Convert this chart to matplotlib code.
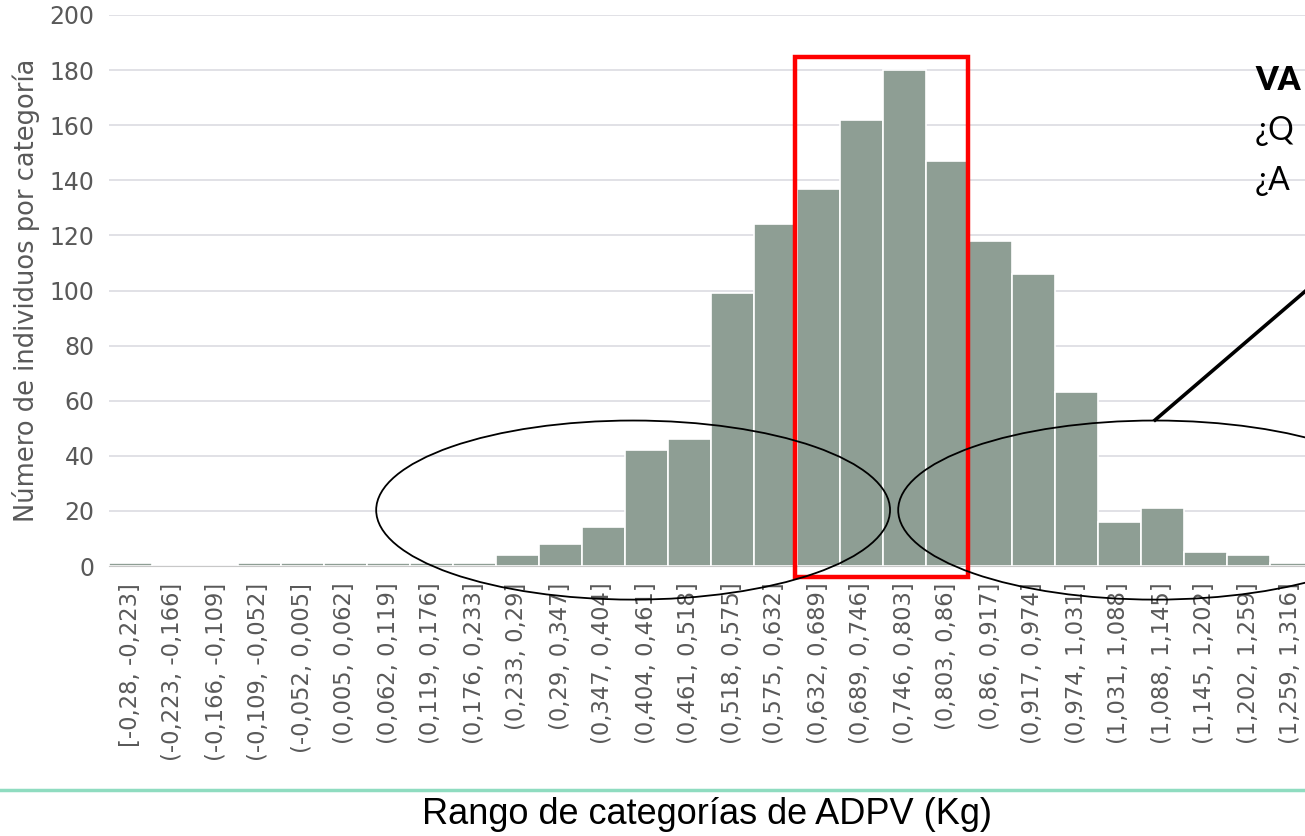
import matplotlib.pyplot as plt
from matplotlib.patches import Rectangle, Ellipse
from matplotlib.lines import Line2D
import numpy as np

# Datos
categorias = ['[-0,28, -0,223]', '(-0,223, -0,166]', '(-0,166, -0,109]', '(-0,109, -0,052]',
              '(-0,052, 0,005]', '(0,005, 0,062]', '(0,062, 0,119]', '(0,119, 0,176]',
              '(0,176, 0,233]', '(0,233, 0,29]', '(0,29, 0,347]', '(0,347, 0,404]',
              '(0,404, 0,461]', '(0,461, 0,518]', '(0,518, 0,575]', '(0,575, 0,632]',
              '(0,632, 0,689]', '(0,689, 0,746]', '(0,746, 0,803]', '(0,803, 0,86]',
              '(0,86, 0,917]', '(0,917, 0,974]', '(0,974, 1,031]', '(1,031, 1,088]',
              '(1,088, 1,145]', '(1,145, 1,202]', '(1,202, 1,259]', '(1,259, 1,316]']
frecuencias = [1, 0, 0, 1, 1, 1, 1, 1, 1, 4, 8, 14, 42, 46, 99, 124,
               137, 162, 180, 147, 118, 106, 63, 16, 21, 5, 4, 1]
yticks = [0, 20, 40, 60, 80, 100, 120, 140, 160, 180, 200]

W, H = 1305, 836
fig = plt.figure(figsize=(W / 100, H / 100), dpi=100)
# eje: x de 108 a 1312 px, y de 15 a 566 px
ax = fig.add_axes([108.5 / W, 1 - 566 / H, (1312.5 - 108.5) / W, (566 - 15) / H])

x = np.arange(len(categorias))
ax.bar(x, frecuencias, width=1.0, color='#8E9E94', edgecolor='white', linewidth=1.2, zorder=2)

ax.set_xlim(-0.5, len(categorias) - 0.5)
ax.set_ylim(0, 200)
ax.set_yticks(yticks)
ax.grid(axis='y', color='#dcdce2', linewidth=1.2, zorder=0)
ax.set_xticks(x)
ax.set_xticklabels(categorias, rotation=90, fontsize=16.3, color='#595959')
ax.tick_params(axis='y', labelsize=17, colors='#595959', length=0, pad=10)
ax.tick_params(axis='x', length=0, pad=12)
for s in ['top', 'right', 'left']:
    ax.spines[s].set_visible(False)
ax.spines['bottom'].set_color('#c8c8c8')
ax.set_ylabel('Número de individuos por categoría', fontsize=18.5, color='#595959', labelpad=7)

# Rectángulo rojo alrededor de la zona central
ax.add_patch(Rectangle((15.47, -4), 4.02, 188.8, fill=False, edgecolor='#ff0000',
                       linewidth=3.2, clip_on=False, zorder=5))

# Elipses sobre las colas
ax.add_patch(Ellipse((11.7, 20.3), 11.95, 65, fill=False, edgecolor='black',
                     linewidth=1.3, clip_on=False, zorder=6))
ax.add_patch(Ellipse((23.84, 20.3), 11.95, 65, fill=False, edgecolor='black',
                     linewidth=1.3, clip_on=False, zorder=6))

# Línea hacia el texto
ax.add_line(Line2D([23.84, 27.5], [53, 102], color='black', linewidth=2.6,
                   clip_on=False, zorder=6))

# Texto cortado a la derecha
fig.text(1255 / W, 1 - 80 / H, 'VA', fontsize=23, fontweight='heavy', family='Lato', va='center')
fig.text(1255 / W, 1 - 131 / H, '¿Q', fontsize=23, family='Lato', va='center')
fig.text(1255 / W, 1 - 181 / H, '¿A', fontsize=23, family='Lato', va='center')

# Línea verde inferior y título del eje x
fig.add_artist(Line2D([0, 1], [1 - 790 / H, 1 - 790 / H], color='#8fdcc0', linewidth=2.5))
fig.text(707 / W, 1 - 815 / H, 'Rango de categorías de ADPV (Kg)', fontsize=26,
         family='Liberation Sans', ha='center', va='center', color='black')

plt.savefig('out.png', dpi=100)
